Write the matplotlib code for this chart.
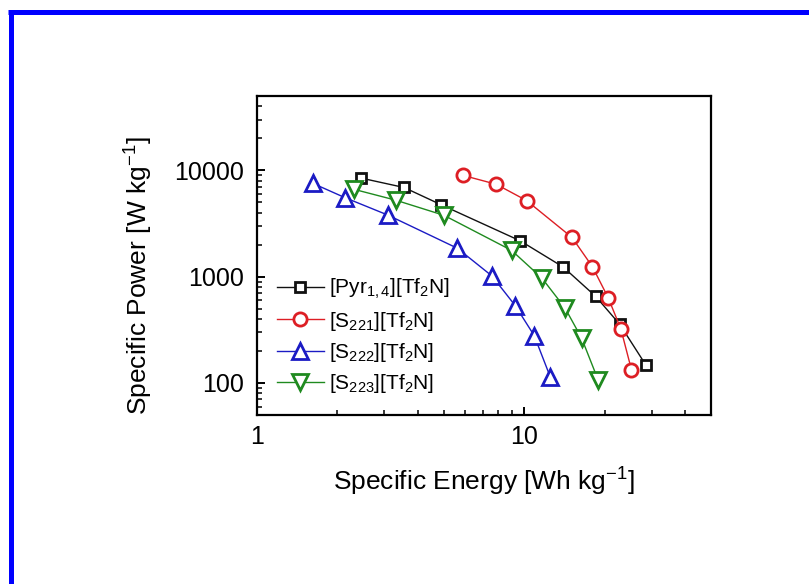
import matplotlib
matplotlib.use("Agg")
import matplotlib.pyplot as plt
from matplotlib.ticker import FuncFormatter, NullFormatter, LogLocator
from matplotlib.lines import Line2D

plt.rcParams['font.family'] = ['Liberation Sans', 'DejaVu Sans']
plt.rcParams['mathtext.fontset'] = 'custom'
plt.rcParams['mathtext.rm'] = 'Liberation Sans'
plt.rcParams['mathtext.it'] = 'Liberation Sans'
plt.rcParams['mathtext.default'] = 'regular'

# ---- data ----
labels = ["[Pyr$_{1,4}$][Tf$_2$N]", "[S$_{221}$][Tf$_2$N]",
          "[S$_{222}$][Tf$_2$N]", "[S$_{223}$][Tf$_2$N]"]

pyr_energy = [2.44, 3.55, 4.90, 9.67, 14.0, 18.5, 22.8, 28.5]
pyr_power = [8475, 6895, 4730, 2170, 1230, 653, 355, 148]

s221_energy = [5.88, 7.85, 10.2, 15.1, 18.0, 20.6, 23.0, 25.2]
s221_power = [8980, 7400, 5200, 2335, 1240, 636, 322, 133]

s222_energy = [1.62, 2.13, 3.08, 5.62, 7.58, 9.25, 10.9, 12.5]
s222_power = [7530, 5545, 3805, 1850, 1013, 535, 279, 115]

s223_energy = [2.31, 3.30, 5.01, 8.97, 11.66, 14.2, 16.4, 18.9]
s223_power = [6620, 5245, 3773, 1766, 966, 509, 264, 107]

x_label = "Specific Energy [Wh kg$^{-1}$]"
y_label = "Specific Power [W kg$^{-1}$]"

# ---- figure ----
fig = plt.figure(figsize=(8.09, 5.84), dpi=100)
fig.patch.set_facecolor('white')

# blue frame (top and left edges)
W, H = 809.0, 584.0
fig.add_artist(Line2D([8 / W, 1.0], [1 - 12 / H, 1 - 12 / H], color='#0000ff',
                      linewidth=3.6, transform=fig.transFigure, solid_capstyle='butt'))
fig.add_artist(Line2D([11 / W, 11 / W], [1 - 9.5 / H, 0.0], color='#0000ff',
                      linewidth=3.6, transform=fig.transFigure, solid_capstyle='butt'))

ax = fig.add_axes([257 / W, 1 - 415 / H, (711 - 257) / W, (415 - 96) / H])

series = [
    (pyr_energy, pyr_power, '#111111', 's', 7.2),
    (s221_energy, s221_power, '#dd1e24', 'o', 9.5),
    (s222_energy, s222_power, '#1b1bc4', '^', 11.5),
    (s223_energy, s223_power, '#1f8a1f', 'v', 11.5),
]
for (xs, ys, c, m, ms), lab in zip(series, labels):
    ax.plot(xs, ys, color=c, marker=m, markersize=ms, markerfacecolor='white',
            markeredgecolor=c, markeredgewidth=2.0, linewidth=1.0, label=lab)

ax.set_xscale('log')
ax.set_yscale('log')
ax.set_xlim(1, 50)
ax.set_ylim(50, 50000)

fmt = FuncFormatter(lambda v, p: f"{v:g}")
ax.xaxis.set_major_formatter(fmt)
ax.yaxis.set_major_formatter(fmt)
ax.xaxis.set_minor_locator(LogLocator(base=10, subs=range(2, 10)))
ax.yaxis.set_minor_locator(LogLocator(base=10, subs=range(2, 10)))
ax.xaxis.set_minor_formatter(NullFormatter())
ax.yaxis.set_minor_formatter(NullFormatter())

ax.tick_params(which='both', direction='in', top=False, right=False)
ax.tick_params(which='major', length=5.5, width=1.4, labelsize=18)
ax.tick_params(which='minor', length=3.5, width=1.1)
ax.tick_params(axis='x', which='major', pad=7)
ax.tick_params(axis='y', which='major', pad=9)

for sp in ax.spines.values():
    sp.set_linewidth(1.6)

ax.set_xlabel(x_label, fontsize=19)
ax.set_ylabel(y_label, fontsize=19)
ax.xaxis.set_label_coords(0.5, -0.158)
ax.yaxis.set_label_coords(-0.225, 0.436)

leg = ax.legend(loc='upper left', bbox_to_anchor=(0.044, 0.432), frameon=False,
                fontsize=15, handlelength=2.25, handletextpad=0.25,
                labelspacing=0.4, borderpad=0, borderaxespad=0)

fig.savefig('out.png', dpi=100)
